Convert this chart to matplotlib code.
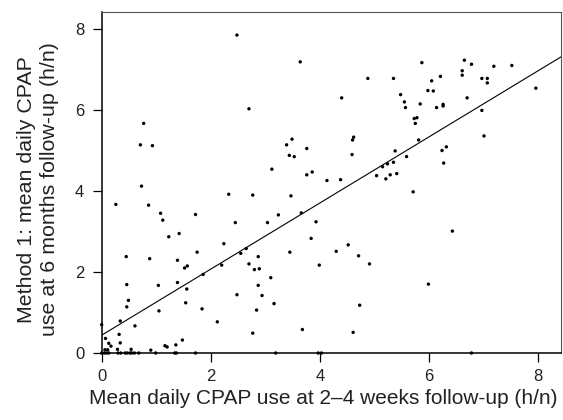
import matplotlib
matplotlib.use("Agg")
import matplotlib.pyplot as plt
import numpy as np

plt.rcParams['font.family'] = ['Liberation Sans', 'DejaVu Sans']

# Mean daily CPAP use at 2-4 weeks (x) and at 6 months (y)
x_vals = [
    2.48, 3.64, 2.70, 0.77, 0.71, 0.93, 0.73, 3.49, 3.39, 3.76, 3.44, 3.53, 3.12, 3.76, 3.86, 4.13,
    2.33, 2.77, 3.47, 0.26, 0.86, 1.08, 1.12, 1.72, 2.45, 3.04, 3.24, 3.66, 3.93, 1.23, 1.42, 2.24,
    2.65, 2.55, 1.75, 0.45, 0.88, 1.39, 1.57, 1.52, 2.20, 2.70, 2.87, 2.80, 2.89, 3.45, 3.84, 3.99,
    1.86, 3.10, 0.46, 1.04, 1.39, 1.56, 2.87, 0.49, 0.46, 2.48, 2.94, 1.54, 3.16, 1.05, 1.84, 2.84,
    0.34, 0.61, 2.12, 0.00, 3.68, 2.77, 0.32, 0.07, 1.48, 0.13, 0.34, 0.17, 1.36, 1.16, 1.20, 0.06,
    0.11, 0.29, 0.54, 0.90,
    4.38, 4.40, 4.88, 5.35, 5.87, 5.48, 5.55, 5.57, 5.84, 5.73, 5.78, 5.75, 5.81, 4.60, 4.62, 4.59,
    5.38, 5.59, 5.15, 5.24, 5.35, 5.04, 5.21, 5.29, 5.41, 5.71, 5.98, 6.08, 6.05, 6.21, 6.14, 6.26,
    6.26, 6.24, 6.32, 6.27, 6.61, 6.61, 6.65, 6.78, 6.70, 6.97, 7.07, 7.07, 6.97, 7.01, 7.19, 7.52,
    7.96, 6.43, 4.30, 4.52, 4.71, 4.91, 5.99, 4.73, 4.61,
    0.00, 0.05, 0.09, 0.13, 0.30, 0.35, 0.43, 0.47, 0.52, 0.55, 0.60, 0.68, 0.99, 1.34, 1.37, 1.72,
    3.19, 3.97, 4.03, 6.78,
]
y_vals = [
    7.85, 7.19, 6.03, 5.67, 5.14, 5.12, 4.12, 5.28, 5.14, 5.05, 4.88, 4.85, 4.54, 4.40, 4.47, 4.26,
    3.92, 3.90, 3.88, 3.67, 3.65, 3.45, 3.28, 3.42, 3.22, 3.22, 3.41, 3.46, 3.24, 2.87, 2.95, 2.70,
    2.58, 2.46, 2.49, 2.38, 2.33, 2.29, 2.15, 2.10, 2.17, 2.20, 2.38, 2.06, 2.08, 2.49, 2.83, 2.17,
    1.94, 1.86, 1.69, 1.67, 1.74, 1.58, 1.67, 1.30, 1.14, 1.44, 1.42, 1.24, 1.22, 1.04, 1.09, 1.06,
    0.79, 0.67, 0.77, 0.70, 0.58, 0.49, 0.46, 0.36, 0.32, 0.24, 0.25, 0.17, 0.20, 0.18, 0.15, 0.08,
    0.08, 0.09, 0.09, 0.07,
    4.28, 6.30, 6.78, 6.78, 7.17, 6.38, 6.20, 6.06, 6.15, 5.79, 5.81, 5.67, 5.26, 5.26, 5.33, 4.90,
    4.99, 4.85, 4.60, 4.67, 4.71, 4.38, 4.30, 4.40, 4.43, 3.98, 6.48, 6.47, 6.72, 6.83, 6.06, 6.14,
    6.10, 5.00, 5.09, 4.69, 6.97, 6.86, 7.23, 7.13, 6.30, 6.78, 6.78, 6.67, 5.99, 5.36, 7.08, 7.10,
    6.54, 3.01, 2.51, 2.67, 2.40, 2.20, 1.70, 1.18, 0.51,
    0.00, 0.00, 0.00, 0.00, 0.00, 0.00, 0.00, 0.00, 0.00, 0.00, 0.00, 0.00, 0.00, 0.00, 0.00, 0.00,
    0.00, 0.00, 0.00, 0.00,
]

# Fitted regression line
line_intercept = 0.44
line_slope = 0.816

x_ticks = [0, 2, 4, 6, 8]
y_ticks = [0, 2, 4, 6, 8]
x_label = "Mean daily CPAP use at 2\u20134 weeks follow-up (h/n)"
y_label = "Method 1: mean daily CPAP\nuse at 6 months follow-up (h/n)"

fig = plt.figure(figsize=(5.63, 4.20), dpi=100)
ax = fig.add_axes([0.1806, 0.1595, 0.8167, 0.8119])

ax.scatter(x_vals, y_vals, s=6, c='black', edgecolors='none', clip_on=False, zorder=3)

xl = (0, 8.43)
ax.set_xlim(*xl)
ax.set_ylim(0, 8.42)
xs = np.array(xl)
ax.plot(xs, line_intercept + line_slope * xs, color='black', lw=0.8)

ax.set_xticks(x_ticks)
ax.set_yticks(y_ticks)
ax.tick_params(axis='both', direction='out', length=6.5, width=0.9, labelsize=12,
               colors='black', labelcolor='#222222')
ax.tick_params(axis='x', pad=5)
ax.tick_params(axis='y', pad=6)

for s in ['left', 'bottom']:
    ax.spines[s].set_linewidth(1.1)
    ax.spines[s].set_color('black')
for s in ['top', 'right']:
    ax.spines[s].set_linewidth(0.8)
    ax.spines[s].set_color('#555555')

ax.set_xlabel(x_label, fontsize=15, color='#222222')
ax.xaxis.set_label_coords(0.481, -0.105)
ax.set_ylabel(y_label, fontsize=15.4, color='#222222', linespacing=1.32)
ax.yaxis.set_label_coords(-0.092, 0.48)

fig.savefig("out.png", dpi=100)
